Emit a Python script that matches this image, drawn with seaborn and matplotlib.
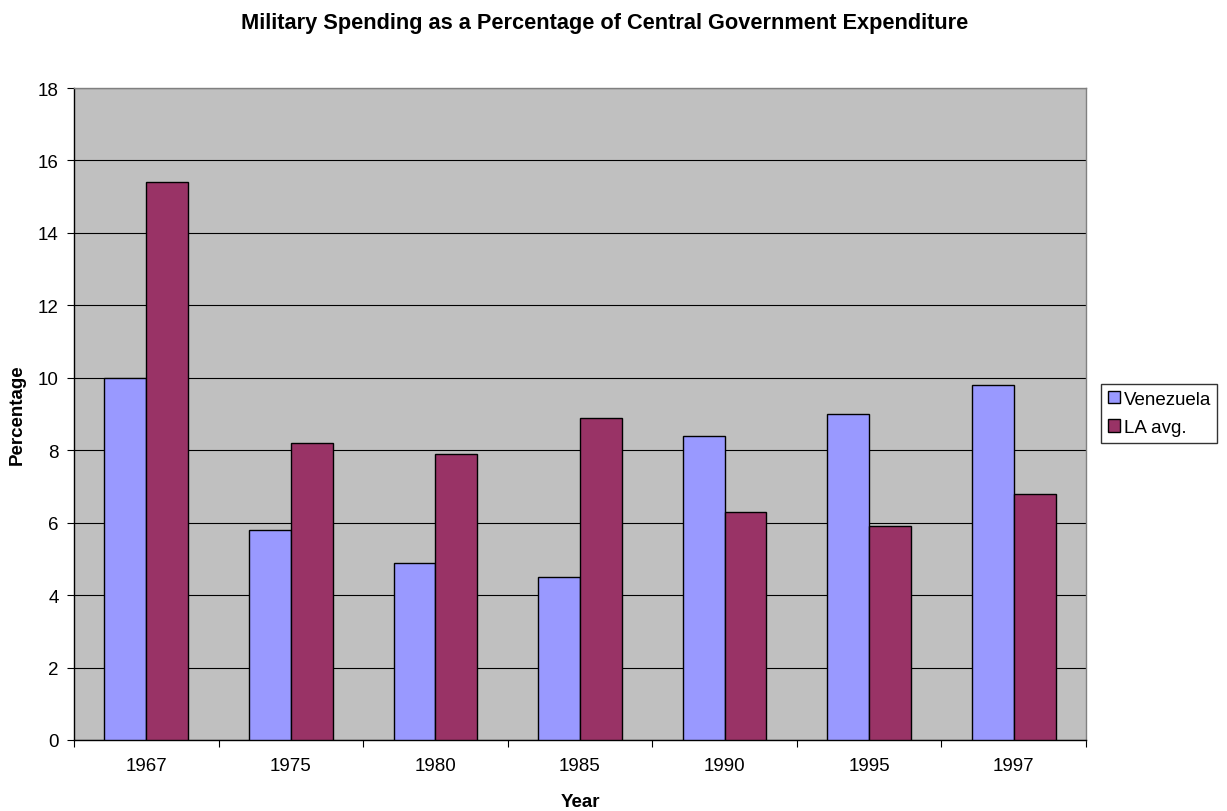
import matplotlib
matplotlib.use("Agg")
import matplotlib.pyplot as plt
import seaborn as sns
import pandas as pd

years = ["1967", "1975", "1980", "1985", "1990", "1995", "1997"]
venezuela = [10.0, 5.8, 4.9, 4.5, 8.4, 9.0, 9.8]
la_avg = [15.4, 8.2, 7.9, 8.9, 6.3, 5.9, 6.8]
series_names = ["Venezuela", "LA avg."]
series_colors = ["#9999FF", "#993366"]

df = pd.DataFrame({
    "Year": years * 2,
    "Percentage": venezuela + la_avg,
    "Series": [series_names[0]] * len(years) + [series_names[1]] * len(years),
})

sns.set_theme(style="white")
plt.rcParams["font.family"] = ["Liberation Sans", "DejaVu Sans"]
plt.rcParams["text.color"] = "black"
plt.rcParams["axes.labelcolor"] = "black"
plt.rcParams["xtick.color"] = "black"
plt.rcParams["ytick.color"] = "black"

fig = plt.figure(figsize=(12.27, 8.12), dpi=100)
ax = fig.add_axes([74 / 1227, 1 - 741 / 812, (1086 - 74) / 1227, (741 - 89) / 812])
ax.set_facecolor("#C0C0C0")

sns.barplot(data=df, x="Year", y="Percentage", hue="Series", order=years,
            hue_order=series_names, palette=series_colors, saturation=1,
            width=0.58, edgecolor="black", linewidth=1.0, ax=ax, zorder=3)

ax.set_ylim(0, 18)
ax.set_xlim(-0.5, len(years) - 0.5)
ax.set_yticks(range(0, 19, 2))
ax.yaxis.grid(True, color="black", linewidth=0.8, zorder=0)
ax.set_axisbelow(True)

# category separators as outward ticks on the x axis
ax.set_xticks([i - 0.5 for i in range(len(years) + 1)], minor=True)
ax.tick_params(axis="x", which="major", length=0, pad=12, labelsize=13.5, bottom=False)
ax.tick_params(axis="x", which="minor", length=5, width=0.8, color="black",
               direction="out", bottom=True)
ax.tick_params(axis="y", length=5, width=0.8, color="black", direction="out",
               labelsize=13.5, pad=6, left=True)

for side in ["top", "right"]:
    ax.spines[side].set_color("#808080")
    ax.spines[side].set_linewidth(1.0)
for side in ["left", "bottom"]:
    ax.spines[side].set_color("black")
    ax.spines[side].set_linewidth(1.0)

ax.set_xlabel("Year", fontsize=13.5, fontweight="bold", labelpad=14)
ax.set_ylabel("Percentage", fontsize=13.5, fontweight="bold", labelpad=9)
fig.text(604.5 / 1227, 1 - 24 / 812,
         "Military Spending as a Percentage of Central Government Expenditure",
         ha="center", va="center", fontsize=15.7, fontweight="bold")

leg = ax.legend(loc="upper left", bbox_to_anchor=(1101 / 1227, 1 - 385 / 812),
                bbox_transform=fig.transFigure, frameon=True,
                fancybox=False, edgecolor="black", fontsize=13.5,
                handlelength=0.65, handleheight=0.65, handletextpad=0.2,
                borderpad=0.35, labelspacing=0.62, borderaxespad=0.0)
leg.get_frame().set_linewidth(1.0)
for h in leg.legend_handles:
    h.set_edgecolor("black")

fig.savefig("out.png", dpi=100, facecolor="white")
